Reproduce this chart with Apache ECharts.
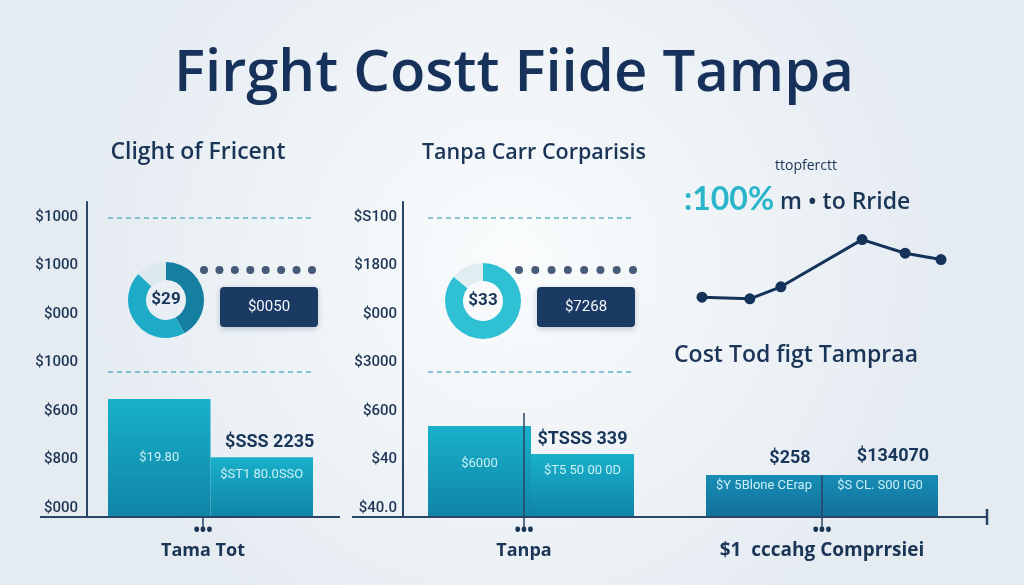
<!DOCTYPE html>
<html><head><meta charset="utf-8">
<script src="https://cdn.jsdelivr.net/npm/echarts@6/dist/echarts.min.js"></script>
<style>html,body{margin:0;padding:0;background:#eef3f7}#c{width:1024px;height:585px}</style>
</head><body><div id="c"></div>
<script>
// ---------- data ----------
const mainTitle = 'Firght Costt Fiide Tampa';
const panelTitles = ['Clight of Fricent', 'Tanpa Carr Corparisis', 'Cost Tod figt Tampraa'];
const yLabels1 = ['$1000', '$1000', '$000', '$1000', '$600', '$800', '$000'];
const yLabels2 = ['$S100', '$1800', '$000', '$3000', '$600', '$40', '$40.0'];
const barCats = ['A', 'B'];
const bars1 = [375, 190];
const bars2 = [289, 200];
const bars3 = [133, 133];
const insideLabels1 = ['$19.80', '$ST1 80.0SSO'];
const insideLabels2 = ['$6000', '$T5 50 00 0D'];
const insideLabels3 = ['$Y 5Blone CErap', '$S CL. S00 IG0'];
const topLabels1 = ['', '$SSS 2235'];
const topLabels2 = ['', '$TSSS 339'];
const topLabels3 = ['$258', '$134070'];
const refLines = [949, 460];
const donut1 = [42, 45, 13];
const donut2 = [86, 14];
const donutCenter = ['$29', '$33'];
const boxTexts = ['$0050', '$7268'];
const dotsX = [0, 1, 2, 3, 4, 5, 6, 7];
const lineX = [0, 20, 33, 67, 85, 100];
const lineY = [16, 14, 29, 88, 71, 63];
const kpiSmall = 'ttopferctt';
const kpiBig = ':100%';
const kpiText = 'm • to Rride';
const bottomLabels = ['Tama Tot', 'Tanpa', '$1  cccahg Comprrsiei'];

// ---------- styles ----------
const NAVY = '#18355a';
const FONT = '"Open Sans", Lato, sans-serif';
const NUMFONT = 'Roboto, sans-serif';
const barGrad = (top, bot) => new echarts.graphic.LinearGradient(0, 0, 0, 1, [{offset: 0, color: top}, {offset: 1, color: bot}]);

const chart = echarts.init(document.getElementById('c'), null, {renderer: 'canvas'});

const grids = [
  {left: 108, top: 202, width: 205, height: 315},   // 0 bars panel1
  {left: 87, top: 217, width: 1, height: 291},      // 1 y labels panel1
  {left: 428, top: 202, width: 206, height: 315},   // 2 bars panel2
  {left: 403, top: 217, width: 1, height: 291},     // 3 y labels panel2
  {left: 706, top: 202, width: 232, height: 315},   // 4 bars panel3
  {left: 702, top: 230, width: 239, height: 80},    // 5 line panel3
  {left: 204, top: 262, width: 108, height: 16},    // 6 dots panel1
  {left: 519, top: 262, width: 114, height: 16}     // 7 dots panel2
];

const hiddenCat = (gi) => ({type: 'category', gridIndex: gi, data: barCats, show: false});
const valAxis = (gi, offset) => ({
  type: 'value', gridIndex: gi, min: 0, max: 1000, offset: offset,
  axisLine: {show: offset != null, lineStyle: {color: '#2a4565', width: 2}},
  axisLabel: {show: false}, axisTick: {show: false}, splitLine: {show: false}
});
const labelAxis = (gi, labels, margin) => ({
  type: 'category', gridIndex: gi, data: labels, inverse: true, boundaryGap: false,
  axisLine: {show: false}, axisTick: {show: false},
  axisLabel: {margin: margin, color: '#1e3555', fontSize: 15, fontFamily: NUMFONT, fontWeight: 500}
});

const xAxes = [
  hiddenCat(0),
  {type: 'value', gridIndex: 1, show: false},
  hiddenCat(2),
  {type: 'value', gridIndex: 3, show: false},
  hiddenCat(4),
  {type: 'value', gridIndex: 5, min: 0, max: 100, show: false},
  {type: 'value', gridIndex: 6, min: 0, max: 7, show: false},
  {type: 'value', gridIndex: 7, min: 0, max: 7, show: false}
];
const yAxes = [
  valAxis(0, 21),
  labelAxis(1, yLabels1, 9),
  valAxis(2, 25),
  labelAxis(3, yLabels2, 6),
  valAxis(4, null),
  {type: 'value', gridIndex: 5, min: 0, max: 100, show: false},
  {type: 'value', gridIndex: 6, min: -1, max: 1, show: false},
  {type: 'value', gridIndex: 7, min: -1, max: 1, show: false}
];

function barSeries(gi, values, labels, colors, labelCfg, withRef) {
  const s = {
    type: 'bar', xAxisIndex: gi, yAxisIndex: gi, barCategoryGap: 0, barGap: '-100%',
    itemStyle: {color: barGrad(colors[0], colors[1]), borderWidth: 0},
    data: values.map((v, i) => ({
      value: v,
      label: Object.assign({show: true, formatter: labels[i], color: '#c9f0f7', fontSize: 13, fontFamily: NUMFONT}, labelCfg[i])
    })),
    z: 3
  };
  if (withRef) {
    s.markLine = {
      silent: true, symbol: 'none', label: {show: false},
      lineStyle: {type: [5, 4], color: '#5db3bf', width: 1.5},
      data: refLines.map(v => ({yAxis: v}))
    };
  }
  return s;
}
function topSeries(gi, values, labels, offsets) {
  return {
    type: 'bar', xAxisIndex: gi, yAxisIndex: gi, barCategoryGap: 0, barGap: '-100%',
    itemStyle: {color: 'rgba(0,0,0,0)'}, z: 4, silent: true,
    data: values.map((v, i) => ({
      value: v,
      label: {show: labels[i] !== '', position: 'top', distance: 6, offset: offsets[i], formatter: labels[i],
        color: NAVY, fontSize: 18, fontWeight: 'bold', fontFamily: NUMFONT}
    }))
  };
}
function donut(center, values, colors, centerText) {
  return {
    type: 'pie', center: center, radius: [20, 38], startAngle: 90, clockwise: true,
    silent: true, labelLine: {show: false},
    label: {show: false},
    data: values.map((v, i) => ({
      value: v, itemStyle: {color: colors[i]},
      label: i === 0 ? {show: true, position: 'center', formatter: centerText, color: NAVY, fontSize: 17, fontWeight: 'bold', fontFamily: NUMFONT} : {show: false}
    }))
  };
}
function dotSeries(gi) {
  return {type: 'scatter', xAxisIndex: gi, yAxisIndex: gi, symbolSize: 8, itemStyle: {color: '#1a3558'},
    data: dotsX.map(x => [x, 0]), silent: true};
}

const series = [
  barSeries(0, bars1, insideLabels1, ['#19b1cb', '#0f84a6'],
    [{position: 'inside'}, {position: 'insideTop', distance: 11}], true),
  topSeries(0, bars1, topLabels1, [[0, 0], [8, 0]]),
  barSeries(2, bars2, insideLabels2, ['#19b1cb', '#0f84a6'],
    [{position: 'insideTop', distance: 31}, {position: 'insideTop', distance: 10}], true),
  topSeries(2, bars2, topLabels2, [[0, 0], [0, 0]]),
  barSeries(4, bars3, insideLabels3, ['#178db5', '#12709a'],
    [{position: 'insideTop', distance: 4}, {position: 'insideTop', distance: 4}], false),
  topSeries(4, bars3, topLabels3, [[26, -2], [13, -4]]),
  {
    type: 'line', xAxisIndex: 5, yAxisIndex: 5, data: lineX.map((x, i) => [x, lineY[i]]),
    lineStyle: {color: '#15335a', width: 3}, itemStyle: {color: '#15335a'},
    symbol: 'circle', symbolSize: 11, silent: true
  },
  donut([166, 300], donut1, ['#147fa1', '#1eabc8', '#dbe9ee'], donutCenter[0]),
  donut([483, 301], donut2, ['#2fc0d4', '#e0eef2'], donutCenter[1]),
  dotSeries(6),
  dotSeries(7)
];

const line = (x1, y1, x2, y2, w) => ({type: 'line', shape: {x1, y1, x2, y2}, style: {stroke: '#2a4565', lineWidth: w || 2}, z: 5});
const txt = (x, y, text, size, color, weight, align, font) => ({
  type: 'text', x: x, y: y, z: 7,
  style: {text: text, fontSize: size, fill: color || NAVY, fontWeight: weight || 'bold', fontFamily: font || FONT,
    align: align || 'center', verticalAlign: 'middle'}
});
const box = (x, y, w, h) => ({
  type: 'rect', shape: {x: x, y: y, width: w, height: h, r: 4}, z: 5,
  style: {fill: '#1b3a63', shadowBlur: 6, shadowColor: 'rgba(20,50,90,0.25)', shadowOffsetY: 2}
});

const graphic = [
  {type: 'rect', shape: {x: 0, y: 0, width: 1024, height: 585}, z: -10, silent: true,
    style: {fill: new echarts.graphic.RadialGradient(0.5, 0.45, 0.75, [{offset: 0, color: '#fafcfd'}, {offset: 1, color: '#e4ebf1'}])}},
  txt(514, 74, mainTitle, 58, '#17325a', 600),
  txt(198, 152, panelTitles[0], 23, '#1b3557', 600),
  txt(534, 153, panelTitles[1], 21.5, '#1b3557', 600),
  txt(796, 355, panelTitles[2], 23, '#1b3557', 600),
  txt(806, 166, kpiSmall, 14, '#1b3557', 500),
  txt(684, 200, kpiBig, 32, '#2bb5cb', 'bold', 'left', 'Lato, sans-serif'),
  txt(780, 202, kpiText, 23, '#1b3557', 600, 'left'),
  box(220, 287, 98, 40),
  box(537, 287, 98, 40),
  txt(269, 307, boxTexts[0], 15, '#f2f6fa', 'normal', 'center', NUMFONT),
  txt(586, 307, boxTexts[1], 15, '#f2f6fa', 'normal', 'center', NUMFONT),
  // baselines & ticks
  line(40, 517, 340, 517),
  line(352, 517, 668, 517),
  line(660, 517, 987, 517),
  line(987, 509, 987, 525, 2.5),
  line(203, 517, 203, 527, 1.5),
  line(524, 413, 524, 527, 1.5),
  line(822, 475, 822, 527, 1.5),
  txt(203, 531, '•••', 17, '#1b3557', 'bold'),
  txt(524, 531, '•••', 17, '#1b3557', 'bold'),
  txt(822, 531, '•••', 17, '#1b3557', 'bold'),
  txt(203, 551, bottomLabels[0], 18, '#1b3557', 'bold'),
  txt(524, 551, bottomLabels[1], 18, '#1b3557', 'bold'),
  txt(822, 551, bottomLabels[2], 19, '#1b3557', 'bold')
];

chart.setOption({
  animation: false,
  grid: grids,
  xAxis: xAxes,
  yAxis: yAxes,
  series: series,
  graphic: graphic
});
</script></body></html>
